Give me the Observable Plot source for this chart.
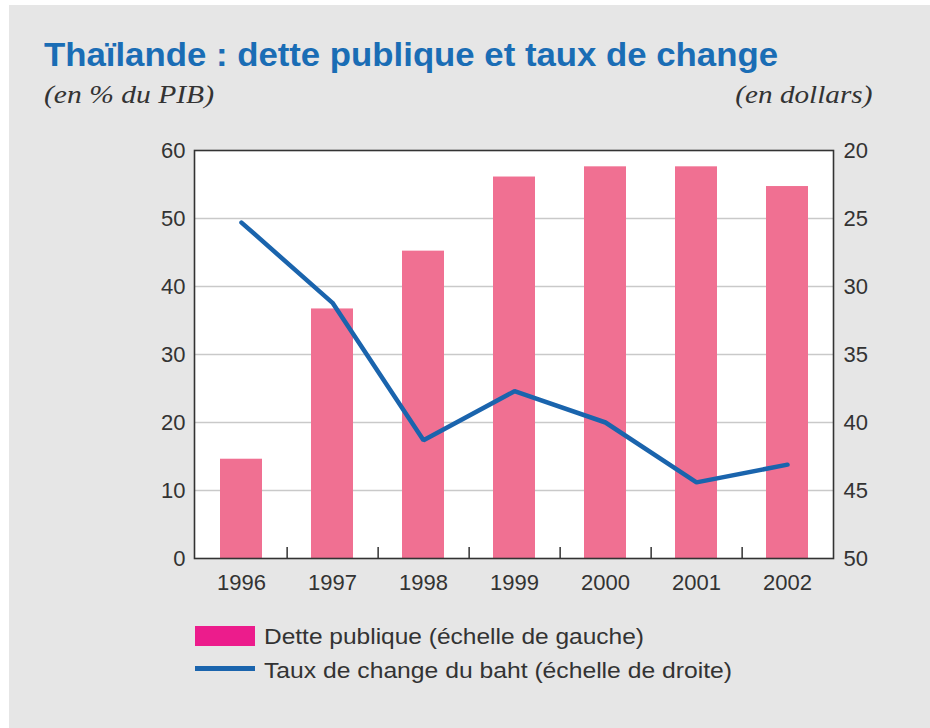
<!DOCTYPE html>
<html>
<head>
<meta charset="utf-8">
<script src="https://cdn.jsdelivr.net/npm/d3@7"></script>
<script src="https://cdn.jsdelivr.net/npm/@observablehq/plot@0.6"></script>
<style>
  html, body { margin: 0; padding: 0; width: 930px; height: 728px; background: #ffffff; overflow: hidden; }
  #bg { position: absolute; left: 9px; top: 5px; right: 0; bottom: 0; background: #e6e6e6; }
  #title { position: absolute; left: 44px; top: 36px; font-family: "Liberation Sans", Arial, sans-serif; font-weight: bold; font-size: 33px; color: #1a6db5; white-space: nowrap; transform-origin: left top; }
  .sub { position: absolute; top: 81px; font-family: "Liberation Serif", "DejaVu Serif", serif; font-style: italic; font-size: 25px; color: #333; white-space: nowrap; }
  #subL { transform-origin: left top; }
  #subR { transform-origin: right top; }
  #chart { position: absolute; left: 0; top: 130px; }
  .leg { position: absolute; left: 195px; font-family: "Liberation Sans", Arial, sans-serif; font-size: 22px; color: #333; white-space: nowrap; }
  .leg .sw { position: absolute; left: 0; }
  .leg .lbl { position: absolute; left: 69px; top: 0; transform-origin: left center; }
</style>
</head>
<body>
<div id="bg"></div>
<div id="title">Thaïlande : dette publique et taux de change</div>
<div class="sub" id="subL" style="left:44px">(en % du PIB)</div>
<div class="sub" id="subR" style="right:58px">(en dollars)</div>
<div id="chart"></div>
<div class="leg" style="top:624px">
  <div class="sw" style="top:2px;width:60px;height:20px;background:#ec1c8c"></div>
  <div class="lbl" id="l1">Dette publique (échelle de gauche)</div>
</div>
<div class="leg" style="top:658px">
  <div class="sw" style="top:8px;width:60px;height:5px;background:#1a64ad"></div>
  <div class="lbl" id="l2">Taux de change du baht (échelle de droite)</div>
</div>
<script>
// ---- data ----
const years = ["1996", "1997", "1998", "1999", "2000", "2001", "2002"];
const debt = [14.6, 36.7, 45.2, 56.1, 57.6, 57.6, 54.7];       // % du PIB (left)
const baht = [25.3, 31.2, 41.3, 37.7, 40.0, 44.4, 43.1];       // bahts par dollar (right, reversed)
const leftTicks = [0, 10, 20, 30, 40, 50, 60];
const rightTicks = [20, 25, 30, 35, 40, 45, 50];
const gridTicks = [10, 20, 30, 40, 50];

// right axis (20 at top .. 50 at bottom) mapped onto left scale (60 .. 0)
const toLeft = r => (50 - r) * 2;
const fromLeft = v => 50 - v / 2;

const rows = years.map((y, i) => ({year: y, debt: debt[i], baht: baht[i]}));

const W = 930, H = 480;
const mL = 194, mR = 97, mT = 20, mB = 52;
const step = (W - mL - mR) / years.length;

const plot = Plot.plot({
  width: W,
  height: H,
  marginLeft: mL,
  marginRight: mR,
  marginTop: mT,
  marginBottom: mB,
  style: {background: "transparent", fontFamily: "Liberation Sans, Arial, sans-serif", fontSize: "22px", color: "#333"},
  x: {type: "band", domain: years, paddingInner: 0.54, paddingOuter: 0.27, axis: null},
  y: {domain: [0, 60], axis: null},
  marks: [
    Plot.frame({fill: "white"}),
    Plot.ruleY(gridTicks, {stroke: "#c9c9c9", strokeWidth: 1.5}),
    Plot.barY(rows, {x: "year", y: "debt", fill: "#f07092"}),
    Plot.line(rows, {x: "year", y: d => toLeft(d.baht), stroke: "#1a64ad", strokeWidth: 4.5, strokeLinejoin: "miter"}),
    Plot.ruleX(years.slice(0, -1), {x: d => d, dx: step / 2, insetTop: 408 - 11, stroke: "#333", strokeWidth: 1.5}),
    Plot.frame({stroke: "#333", strokeWidth: 1.6}),
    Plot.axisY(leftTicks, {anchor: "left", label: null, tickSize: 0, tickPadding: 9, fill: "#333", fontSize: 22}),
    Plot.axisY(rightTicks.map(toLeft), {anchor: "right", label: null, tickSize: 0, tickPadding: 10, tickFormat: fromLeft, fill: "#333", fontSize: 22}),
    Plot.axisX(years, {anchor: "bottom", label: null, tickSize: 0, tickPadding: 16, fill: "#333", fontSize: 22})
  ]
});
document.getElementById("chart").appendChild(plot);

// fit text widths to the reference
function fit(id, target) {
  const el = document.getElementById(id);
  const w = el.getBoundingClientRect().width;
  if (w > 0) el.style.transform = `scaleX(${target / w})`;
}
fit("title", 734);
fit("subL", 170);
fit("subR", 137);
fit("l1", 380);
fit("l2", 468);
</script>
</body>
</html>
